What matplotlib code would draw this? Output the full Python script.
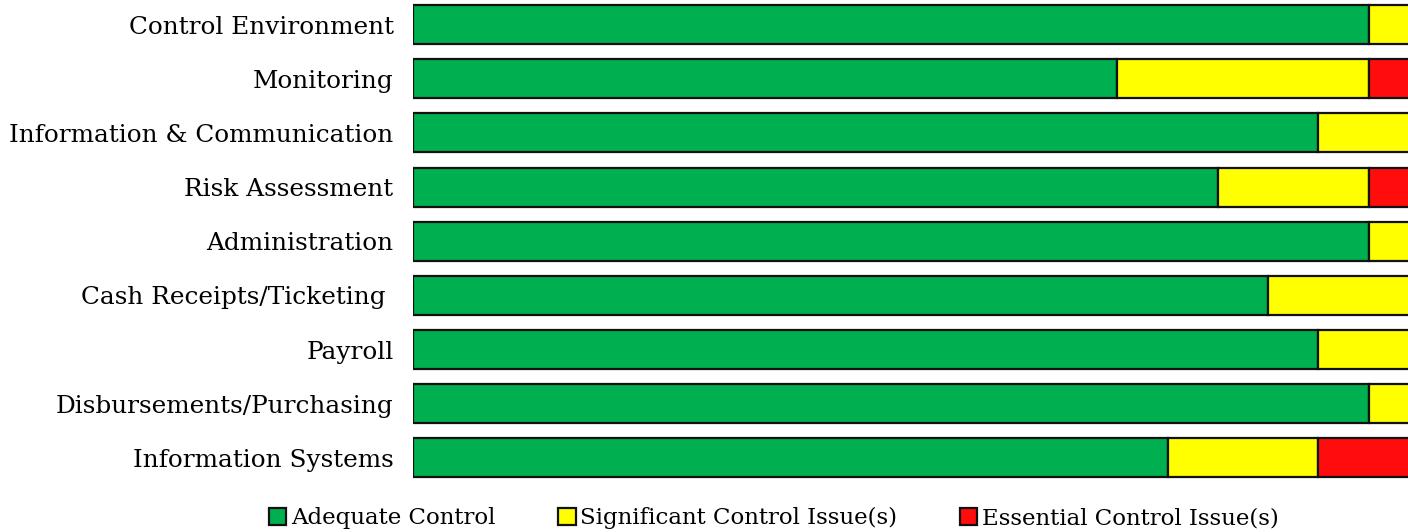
import matplotlib
matplotlib.use('Agg')
import matplotlib.pyplot as plt
from matplotlib.patches import Patch
import numpy as np

categories = ['Control Environment', 'Monitoring', 'Information & Communication',
              'Risk Assessment', 'Administration', 'Cash Receipts/Ticketing ',
              'Payroll', 'Disbursements/Purchasing', 'Information Systems']
adequate = [19, 14, 18, 16, 19, 17, 18, 19, 15]
significant = [1, 5, 2, 3, 1, 3, 2, 1, 3]
essential = [0, 1, 0, 1, 0, 0, 0, 0, 2]

series_names = ['Adequate Control', 'Significant Control Issue(s)', 'Essential Control Issue(s)']
colors = ['#00B050', '#FFFF00', '#FF0D0D']

plt.rcParams['font.family'] = ['DejaVu Serif']

fig = plt.figure(figsize=(14.08, 5.32), dpi=100)
ax = fig.add_axes([413 / 1408, 47 / 532, 995 / 1408, 485 / 532])

y = np.arange(len(categories))
left = np.zeros(len(categories))
for vals, col in zip([adequate, significant, essential], colors):
    vals = np.array(vals, dtype=float)
    ax.barh(y, vals, left=left, height=0.72, color=col, edgecolor='#111111',
            linewidth=1.6)
    left += vals

ax.set_xlim(0, 995 / 50.3)
ax.set_ylim(8.5, -0.453)
ax.set_yticks(y)
ax.set_yticklabels(categories, fontsize=17.8)
ax.tick_params(axis='y', length=0, pad=14)
ax.set_xticks([])
for s in ax.spines.values():
    s.set_visible(False)

handles = [Patch(facecolor=c, edgecolor='#111111', linewidth=1.6) for c in colors]
fig.legend(handles, series_names, loc='lower left', bbox_to_anchor=(260 / 1408, -0.012),
           ncol=3, frameon=False, fontsize=16.5, handlelength=0.75, handleheight=0.75,
           handletextpad=0.2, columnspacing=2.75, borderaxespad=0)

fig.savefig('out.png', dpi=100)
